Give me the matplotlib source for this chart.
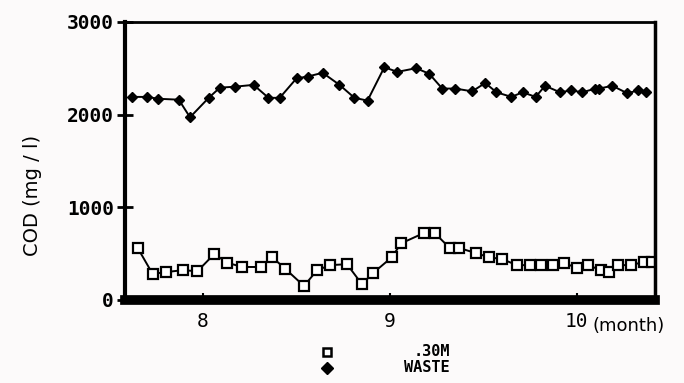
import matplotlib.pyplot as plt

# sampling dates (month as decimal) and COD values
waste_month = [7.62, 7.70, 7.76, 7.87, 7.93, 8.03, 8.09, 8.17, 8.27, 8.35,
               8.41, 8.50, 8.56, 8.64, 8.73, 8.81, 8.88, 8.97, 9.04, 9.14,
               9.21, 9.28, 9.35, 9.44, 9.51, 9.57, 9.65, 9.71, 9.78, 9.83,
               9.91, 9.97, 10.03, 10.10, 10.12, 10.19, 10.27, 10.33, 10.37]
waste_cod = [2190, 2190, 2170, 2160, 1970, 2180, 2290, 2300, 2320, 2180,
             2180, 2390, 2410, 2450, 2320, 2180, 2150, 2510, 2460, 2500,
             2440, 2280, 2280, 2250, 2340, 2240, 2190, 2240, 2190, 2310,
             2240, 2260, 2240, 2280, 2280, 2310, 2230, 2260, 2240]

m30_month = [7.65, 7.73, 7.80, 7.89, 7.97, 8.06, 8.13, 8.21, 8.31, 8.37,
             8.44, 8.54, 8.61, 8.68, 8.77, 8.85, 8.91, 9.01, 9.06, 9.18,
             9.24, 9.32, 9.37, 9.46, 9.53, 9.60, 9.68, 9.75, 9.81, 9.87,
             9.93, 10.00, 10.06, 10.13, 10.17, 10.22, 10.29, 10.36, 10.40]
m30_cod = [560, 280, 300, 320, 310, 495, 400, 355, 355, 460,
           335, 150, 320, 375, 385, 170, 290, 460, 610, 720,
           720, 560, 560, 505, 460, 440, 375, 375, 375, 375,
           400, 345, 375, 320, 300, 375, 375, 410, 410]

yticks = [0, 1000, 2000, 3000]
ytick_labels = ["0", "1000", "2000", "3000"]
xticks = [8, 9, 10]
xtick_labels = ["8", "9", "10"]

mono = {"family": "DejaVu Sans Mono", "weight": "bold"}

fig = plt.figure(figsize=(6.84, 3.83), dpi=100)
fig.patch.set_facecolor("#fcfafa")
ax = fig.add_axes([0.183, 0.217, 0.775, 0.726])
ax.set_facecolor("none")

ax.plot(waste_month, waste_cod, color="black", lw=1.4, marker="D", ms=5,
        mfc="black", mec="black")
ax.plot(m30_month, m30_cod, color="black", lw=1.4, marker="s", ms=6.5,
        mfc="white", mec="black", mew=1.6)

ax.set_xlim(7.583, 10.42)
ax.set_ylim(0, 3000)

ax.set_yticks(yticks)
ax.set_yticklabels(ytick_labels, fontdict=mono, fontsize=14)
ax.set_xticks(xticks)
ax.set_xticklabels(xtick_labels, fontsize=14, family="DejaVu Sans Mono")
ax.tick_params(axis="y", direction="inout", length=12, width=2, pad=2)
ax.tick_params(axis="x", direction="in", length=5, width=1.5, pad=9)

ax.spines["left"].set_linewidth(3)
ax.spines["top"].set_linewidth(2)
ax.spines["right"].set_linewidth(2.5)
ax.spines["bottom"].set_linewidth(7)

ax.text(10.085, -0.06, "(month)", transform=ax.get_xaxis_transform(),
        fontsize=13, ha="left", va="top")

fig.text(0.047, 0.49, "COD (mg / l)", rotation=90, fontsize=14,
         ha="center", va="center")

# legend below the chart
lx = 327 / 684
fig.lines.append(plt.Line2D([lx], [1 - 352 / 383], marker="s", ms=6,
                            mfc="white", mec="black", mew=1.8,
                            transform=fig.transFigure))
fig.lines.append(plt.Line2D([lx], [1 - 368 / 383], marker="D", ms=6,
                            color="black", transform=fig.transFigure))
fig.text(450 / 684, 1 - 352 / 383, ".30M", fontdict=mono, fontsize=11,
         ha="right", va="center")
fig.text(450 / 684, 1 - 368 / 383, "WASTE", fontdict=mono, fontsize=11,
         ha="right", va="center")

fig.savefig("out.png", dpi=100, facecolor=fig.get_facecolor())
